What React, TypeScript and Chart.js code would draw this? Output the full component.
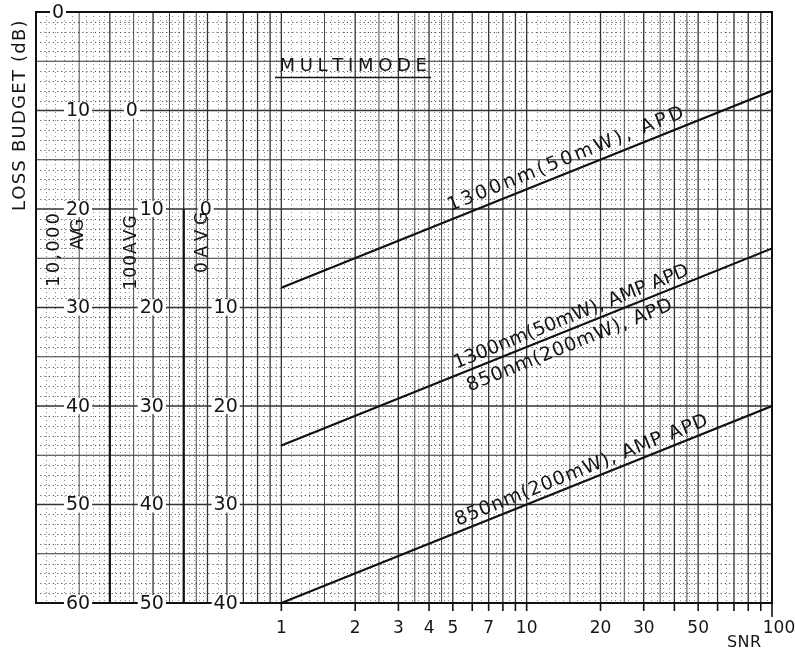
import React, { useEffect, useRef } from "react";
import { Chart, registerables } from "chart.js";

Chart.register(...registerables);

// ---------- data ----------
const snrPoints = [1, 10, 100];
const apd1300 = [-28, -18, -8];
const ampApd1300 = [-44, -34, -24]; // also 850nm(200mW), APD
const ampApd850 = [-60, -50, -40];

const seriesLabels = [
  "1300nm(50mW), APD",
  "1300nm(50mW), AMP APD",
  "850nm(200mW), APD",
  "850nm(200mW), AMP APD",
];

const snrTickMarks = [1, 2, 3, 4, 5, 6, 7, 8, 9, 10, 20, 30, 40, 50, 60, 70, 80, 90, 100];
const snrTickLabels = [1, 2, 3, 4, 5, 7, 10, 20, 30, 50, 100];

const lossTickValues = [0, -10, -20, -30, -40, -50, -60];
const lossTickLabels = ["0", "10", "20", "30", "40", "50", "60"];
const avg100Values = [-10, -20, -30, -40, -50, -60];
const avg100Labels = ["0", "10", "20", "30", "40", "50"];
const avg0Values = [-20, -30, -40, -50, -60];
const avg0Labels = ["0", "10", "20", "30", "40"];

const avgColumns = ["10,000", "AVG", "100AVG", "0AVG"];
const titleText = "MULTIMODE";
const yTitle = "LOSS BUDGET (dB)";
const xTitle = "SNR";

// ---------- styling / layout ----------
const FONT = '"DejaVu Sans", "Liberation Sans", sans-serif';
const INK = "#151515";

const seriesLabelPlacement = [
  { line: 0, text: 0, at: 15.1, off: 13, width: 253 },
  { line: 1, text: 1, at: 15.8, off: 11, width: 252 },
  { line: 1, text: 2, at: 14.2, off: -15, width: 220 },
  { line: 2, text: 3, at: 17.4, off: 11, width: 271 },
];

function drawSpaced(ctx: CanvasRenderingContext2D, text: string, x: number, y: number, width: number, size: number, angle: number) {
  ctx.save();
  ctx.translate(x, y);
  ctx.rotate(angle);
  ctx.font = `${size}px ${FONT}`;
  ctx.textAlign = "left";
  ctx.textBaseline = "middle";
  ctx.fillStyle = INK;
  const chars = [...text];
  const w0 = ctx.measureText(text).width;
  const sp = chars.length > 1 ? (width - w0) / (chars.length - 1) : 0;
  let cx = -width / 2;
  for (const ch of chars) {
    ctx.fillText(ch, cx, 0);
    cx += ctx.measureText(ch).width + sp;
  }
  ctx.restore();
}

function drawBoxedLabel(ctx: CanvasRenderingContext2D, text: string, x: number, y: number, size: number) {
  ctx.save();
  ctx.font = `${size}px ${FONT}`;
  const w = ctx.measureText(text).width;
  ctx.fillStyle = "#fff";
  ctx.fillRect(x - w / 2 - 2, y - size * 0.42, w + 4, size * 0.84);
  ctx.fillStyle = INK;
  ctx.textAlign = "center";
  ctx.textBaseline = "middle";
  ctx.fillText(text, x, y + 1);
  ctx.restore();
}

const paperPlugin = {
  id: "paper",
  beforeDraw(chart: any) {
    const { ctx, width, height } = chart;
    ctx.save();
    ctx.fillStyle = "#fff";
    ctx.fillRect(0, 0, width, height);
    ctx.restore();
  },
  beforeDatasetsDraw(chart: any) {
    const { ctx, chartArea: a, scales } = chart;
    const xs = scales.x;
    const ys = scales.y;
    ctx.save();
    ctx.beginPath();
    ctx.rect(a.left, a.top, a.right - a.left, a.bottom - a.top);
    ctx.clip();

    // dotted minor verticals
    ctx.strokeStyle = "#8a8a8a";
    ctx.lineWidth = 1;
    ctx.setLineDash([1, 3]);
    for (const d of [0.1, 1, 10]) {
      for (let k = 10; k < 100; k++) {
        const take = k < 25 || (k < 50 && k % 2 === 0) || k % 5 === 0;
        if (!take) continue;
        if (k % 5 === 0 && k <= 50) continue;
        if (k % 10 === 0) continue;
        const px = Math.round(xs.getPixelForValue((k / 10) * d)) + 0.5;
        ctx.beginPath();
        ctx.moveTo(px, a.top);
        ctx.lineTo(px, a.bottom);
        ctx.stroke();
      }
    }
    // dotted minor horizontals
    ctx.strokeStyle = "#555";
    ctx.setLineDash([1.2, 3]);
    for (let v = 0; v <= 60; v++) {
      if (v % 5 === 0) continue;
      const py = Math.round(ys.getPixelForValue(-v)) + 0.5;
      ctx.beginPath();
      ctx.moveTo(a.left, py);
      ctx.lineTo(a.right, py);
      ctx.stroke();
    }
    ctx.setLineDash([]);

    // solid verticals
    ctx.strokeStyle = "#333";
    for (const d of [0.1, 1, 10]) {
      for (const m of [1, 1.5, 2, 2.5, 3, 3.5, 4, 4.5, 5, 6, 7, 8, 9]) {
        const px = xs.getPixelForValue(m * d);
        ctx.lineWidth = Number.isInteger(m) ? 1.3 : 0.9;
        ctx.beginPath();
        ctx.moveTo(px, a.top);
        ctx.lineTo(px, a.bottom);
        ctx.stroke();
      }
    }
    // solid horizontals
    for (let v = 0; v <= 60; v += 5) {
      const py = ys.getPixelForValue(-v);
      ctx.lineWidth = v % 10 === 0 ? 1.4 : 1;
      ctx.beginPath();
      ctx.moveTo(a.left, py);
      ctx.lineTo(a.right, py);
      ctx.stroke();
    }
    // AVG column boundaries
    ctx.strokeStyle = "#111";
    ctx.lineWidth = 2.2;
    const c2 = xs.getPixelForValue(0.2);
    const c3 = xs.getPixelForValue(0.4);
    ctx.beginPath();
    ctx.moveTo(c2, ys.getPixelForValue(avg100Values[0]));
    ctx.lineTo(c2, a.bottom);
    ctx.moveTo(c3, ys.getPixelForValue(avg0Values[0]));
    ctx.lineTo(c3, a.bottom);
    ctx.stroke();
    ctx.restore();

    // border
    ctx.save();
    ctx.strokeStyle = "#111";
    ctx.lineWidth = 2;
    ctx.strokeRect(a.left, a.top, a.right - a.left, a.bottom - a.top);
    ctx.restore();
  },
  afterDatasetsDraw(chart: any) {
    const { ctx, chartArea: a, scales } = chart;
    const xs = scales.x;
    const ys = scales.y;
    const lines = [apd1300, ampApd1300, ampApd850];

    // series labels along lines
    for (const p of seriesLabelPlacement) {
      const series = lines[p.line];
      const x0 = xs.getPixelForValue(snrPoints[0]);
      const y0 = ys.getPixelForValue(series[0]);
      const x1 = xs.getPixelForValue(snrPoints[snrPoints.length - 1]);
      const y1 = ys.getPixelForValue(series[series.length - 1]);
      const ang = Math.atan2(y1 - y0, x1 - x0);
      const px = xs.getPixelForValue(p.at);
      const py = y0 + ((px - x0) * (y1 - y0)) / (x1 - x0);
      const cx = px + Math.sin(ang) * p.off;
      const cy = py - Math.cos(ang) * p.off;
      drawSpaced(ctx, seriesLabels[p.text], cx, cy, p.width, 19, ang);
    }

    // y label columns
    const colX = [xs.getPixelForValue(0.1), xs.getPixelForValue(0.2), xs.getPixelForValue(0.4)];
    const cols: [number[], string[]][] = [
      [lossTickValues, lossTickLabels],
      [avg100Values, avg100Labels],
      [avg0Values, avg0Labels],
    ];
    cols.forEach(([vals, labs], i) => {
      vals.forEach((v, j) => {
        const t = labs[j];
        const x = colX[i] + (t.length === 1 ? 22 : 42);
        drawBoxedLabel(ctx, t, x, ys.getPixelForValue(v), 19);
      });
    });

    // rotated AVG column titles
    drawSpaced(ctx, avgColumns[0], 54, 250, 74, 18, -Math.PI / 2);
    drawSpaced(ctx, avgColumns[1], 79, 235, 30, 17, -Math.PI / 2);
    drawSpaced(ctx, avgColumns[2], 132, 253, 73, 17, -Math.PI / 2);
    drawSpaced(ctx, avgColumns[3], 203, 243, 60, 17, -Math.PI / 2);

    // MULTIMODE
    drawSpaced(ctx, titleText, 352, 66, 145, 18, 0);
    ctx.save();
    ctx.strokeStyle = INK;
    ctx.lineWidth = 1.5;
    ctx.beginPath();
    ctx.moveTo(275, 77.5);
    ctx.lineTo(431, 77.5);
    ctx.stroke();
    ctx.restore();

    // y title
    drawSpaced(ctx, yTitle, 20, 116, 190, 18, -Math.PI / 2);

    // x ticks and labels
    ctx.save();
    ctx.strokeStyle = "#111";
    ctx.lineWidth = 1.6;
    for (const t of snrTickMarks) {
      const px = xs.getPixelForValue(t);
      ctx.beginPath();
      ctx.moveTo(px, a.bottom);
      ctx.lineTo(px, a.bottom + (t === 100 ? 14 : 8));
      ctx.stroke();
    }
    ctx.fillStyle = INK;
    ctx.font = `17px ${FONT}`;
    ctx.textAlign = "center";
    ctx.textBaseline = "middle";
    for (const t of snrTickLabels) {
      const px = xs.getPixelForValue(t);
      ctx.fillText(String(t), px + (t === 100 ? 7 : 0), 629);
    }
    ctx.restore();
    drawSpaced(ctx, xTitle, 744, 643, 34, 16, 0);
  },
};

export default function App() {
  const ref = useRef<HTMLCanvasElement>(null);
  useEffect(() => {
    const canvas = ref.current;
    if (!canvas) return;
    const mk = (ys: number[]) => snrPoints.map((x, i) => ({ x, y: ys[i] }));
    const ds = (label: string, ys: number[]) => ({
      label,
      data: mk(ys),
      borderColor: "#111",
      borderWidth: 2.2,
      pointRadius: 0,
      tension: 0,
      fill: false,
    });
    const chart = new Chart(canvas, {
      type: "line",
      data: {
        datasets: [
          ds(seriesLabels[0], apd1300),
          ds(seriesLabels[1] + " / " + seriesLabels[2], ampApd1300),
          ds(seriesLabels[3], ampApd850),
        ],
      },
      options: {
        responsive: false,
        animation: false,
        layout: { padding: { left: 36, right: 23, top: 12, bottom: 49 } },
        scales: {
          x: { type: "logarithmic", min: 0.1, max: 100, display: false },
          y: { type: "linear", min: -60, max: 0, display: false },
        },
        plugins: { legend: { display: false }, tooltip: { enabled: false } },
      },
      plugins: [paperPlugin],
    } as any);
    return () => chart.destroy();
  }, []);
  return (
    <canvas
      ref={ref}
      width={795}
      height={652}
      style={{ position: "absolute", left: 0, top: 0, width: 795, height: 652 }}
    />
  );
}
